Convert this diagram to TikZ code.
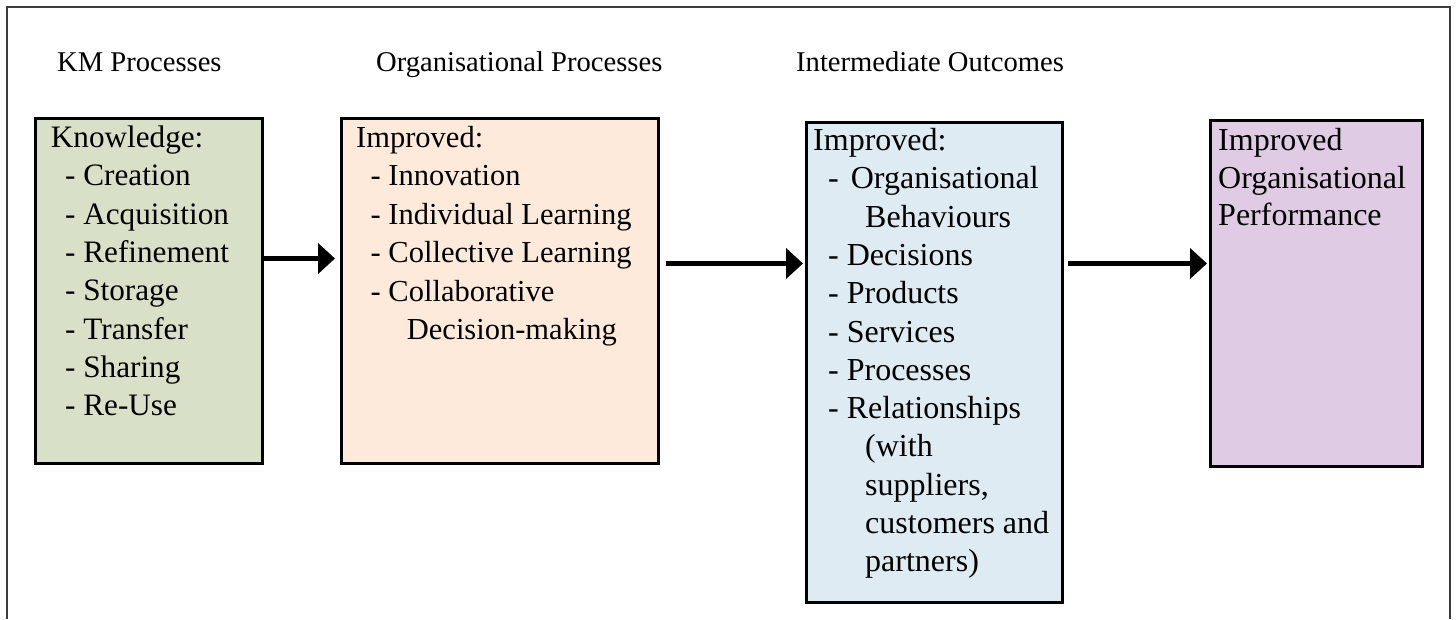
\documentclass[tikz,border=0pt]{standalone}
\usepackage{fontspec}
\setmainfont{Liberation Serif}
\usetikzlibrary{arrows.meta}
\definecolor{kmgreen}{RGB}{216,225,199}
\definecolor{orgpeach}{RGB}{253,234,219}
\definecolor{outblue}{RGB}{222,235,243}
\definecolor{perfpurple}{RGB}{223,204,228}
\definecolor{framegray}{RGB}{60,60,60}
\begin{document}
\begin{tikzpicture}[x=1pt,y=-1pt,
		box/.style={draw=black,line width=3pt,anchor=north west,inner sep=0pt},
		boxtext/.style={anchor=north west,inner sep=0pt,align=left},
		heading/.style={anchor=base west,inner sep=0pt,font=\fontsize{28.6}{34}\selectfont},
		flow/.style={line width=5pt,-{Triangle[length=17pt,width=30pt]}}]
			\useasboundingbox (0,0) rectangle (1456,619);
			\draw[framegray,line width=2pt] (6.5,619) -- (6.5,6.5) -- (1449.5,6.5) -- (1449.5,619);
			\node[heading] (kmhead) at (57,71.5) {KM Processes};
			\node[heading] (ophead) at (376,71.5) {Organisational Processes};
			\node[heading] (iohead) at (796,71.5) {Intermediate Outcomes};
			\node[box,fill=kmgreen,minimum width=227pt,minimum height=345pt] (km) at (33.5,116.5) {};
			\node[box,fill=orgpeach,minimum width=317pt,minimum height=345pt] (op) at (339.5,116.5) {};
			\node[box,fill=outblue,minimum width=256pt,minimum height=480pt] (io) at (804.5,120.5) {};
			\node[box,fill=perfpurple,minimum width=212pt,minimum height=346pt] (perf) at (1208.5,118.5) {};
			\node[boxtext,font=\fontsize{31.2}{38.3}\selectfont] (kmtext) at (50.7,125.7) {Knowledge:\\
				\hspace*{14.3pt}- Creation\\
				\hspace*{14.3pt}- Acquisition\\
				\hspace*{14.3pt}- Refinement\\
				\hspace*{14.3pt}- Storage\\
				\hspace*{14.3pt}- Transfer\\
				\hspace*{14.3pt}- Sharing\\
				\hspace*{14.3pt}- Re-Use};
			\node[boxtext,font=\fontsize{30.5}{38.4}\selectfont] (optext) at (356,126.2) {Improved:\\
				\hspace*{14.5pt}- Innovation\\
				\hspace*{14.5pt}- Individual Learning\\
				\hspace*{14.5pt}- Collective Learning\\
				\hspace*{14.5pt}- Collaborative\\
				\hspace*{50.7pt}Decision-making};
			\node[boxtext,font=\fontsize{32}{38.3}\selectfont] (iotext) at (813,128.1) {Improved:\\
				\hspace*{15pt}-\hspace*{12pt}Organisational\\
				\hspace*{52pt}Behaviours\\
				\hspace*{15pt}- Decisions\\
				\hspace*{15pt}- Products\\
				\hspace*{15pt}- Services\\
				\hspace*{15pt}- Processes\\
				\hspace*{15pt}- Relationships\\
				\hspace*{52pt}(with\\
				\hspace*{52pt}suppliers,\\
				\hspace*{52pt}customers and\\
				\hspace*{52pt}partners)};
			\node[boxtext,font=\fontsize{32}{37.5}\selectfont] (perftext) at (1218,128.1) {Improved\\
				Organisational\\
				Performance};
			\draw[flow,shorten >=4.5pt] ([yshift=32pt]km.east) -- ([yshift=32pt]km.east -| op.west);
			\draw[flow,shorten <=6pt,shorten >=1.5pt] ([yshift=27pt]op.east) -- ([yshift=27pt]op.east -| io.west);
			\draw[flow,shorten <=4.5pt,shorten >=1.5pt] ([yshift=98.5pt]io.east) -- ([yshift=98.5pt]io.east -| perf.west);
		\end{tikzpicture}
\end{document}
